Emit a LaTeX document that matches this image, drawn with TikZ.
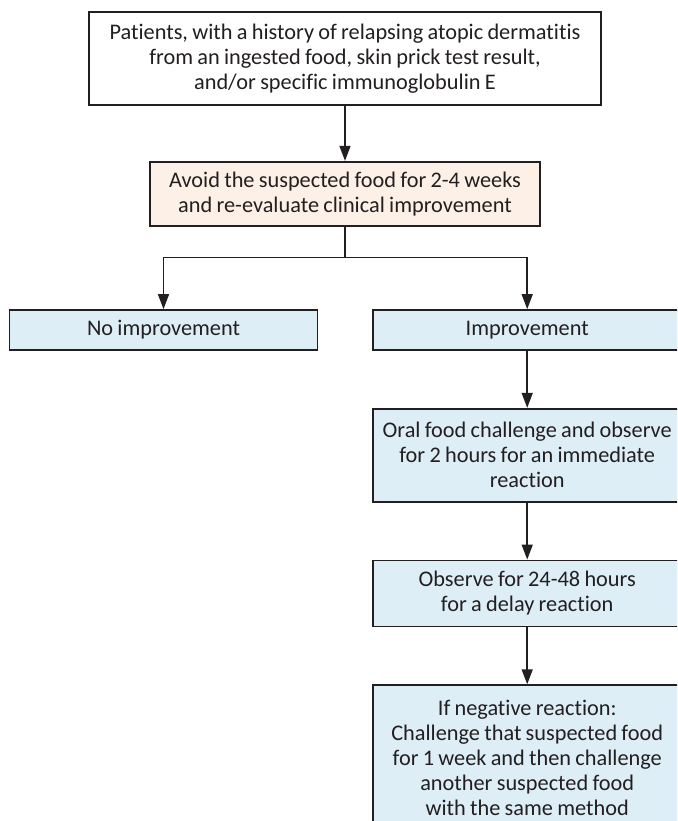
\documentclass[tikz,border=0pt]{standalone}
\usepackage{fontspec}
\setmainfont{Carlito}[WordSpace=0.85, Ligatures=NoCommon]
\usetikzlibrary{positioning, arrows.meta}
\definecolor{inkgray}{HTML}{231F20}
\definecolor{peach}{HTML}{FDF1E7}
\definecolor{paleblue}{HTML}{DDEEF7}

\begin{document}
\begin{tikzpicture}[
    x=1pt, y=-1pt,
    font=\fontsize{22.3}{25}\selectfont,
    box/.style={rectangle, draw=inkgray, line width=1.7pt, text=inkgray, inner sep=0pt, align=center},
    process/.style={box, fill=paleblue, minimum width=308pt},
    arrow/.style={-{Triangle[length=15pt, width=11pt]}, line width=1.5pt, draw=inkgray}
]
\useasboundingbox (0,0) rectangle (677,821);
\clip (0,0) rectangle (677,821);

% Row 1: Patients
\node[box, fill=white, minimum width=512pt, minimum height=93pt] (patients) at (345,58.5)
    {Patients, with a history of relapsing atopic dermatitis\\from an ingested food, skin prick test result,\\and/or specific immunoglobulin E};

% Row 2: Avoidance
\node[box, fill=peach, minimum width=390pt, minimum height=64pt, below=55pt of patients] (avoid)
    {Avoid the suspected food for 2-4 weeks\\and re-evaluate clinical improvement};

% Row 3: Outcome
\node[process, minimum height=40pt] (noimp) at (163.5,330) {No improvement};
\node[process, minimum height=40pt, right=54pt of noimp] (imp) {Improvement};

% Right column: Challenge
\node[process, minimum height=93pt, below=57pt of imp] (oral)
    {Oral food challenge and observe\\for 2 hours for an immediate\\reaction};
\node[process, minimum height=66pt, below=57pt of oral] (observe)
    {Observe for 24-48 hours\\for a delay reaction};
\node[process, minimum height=146pt, below=57pt of observe] (negative)
    {If negative reaction:\\Challenge that suspected food\\for 1 week and then challenge\\another suspected food\\with the same method};

% Arrows
\draw[arrow] (patients) -- (avoid);
\draw[line width=1.5pt, draw=inkgray] (avoid.south) -- ++(0,31) coordinate (split);
\draw[arrow] (split) -| (noimp.north);
\draw[arrow] (split) -| (imp.north);
\draw[arrow] (imp) -- (oral);
\draw[arrow] (oral) -- (observe);
\draw[arrow] (observe) -- (negative);

\end{tikzpicture}
\end{document}
